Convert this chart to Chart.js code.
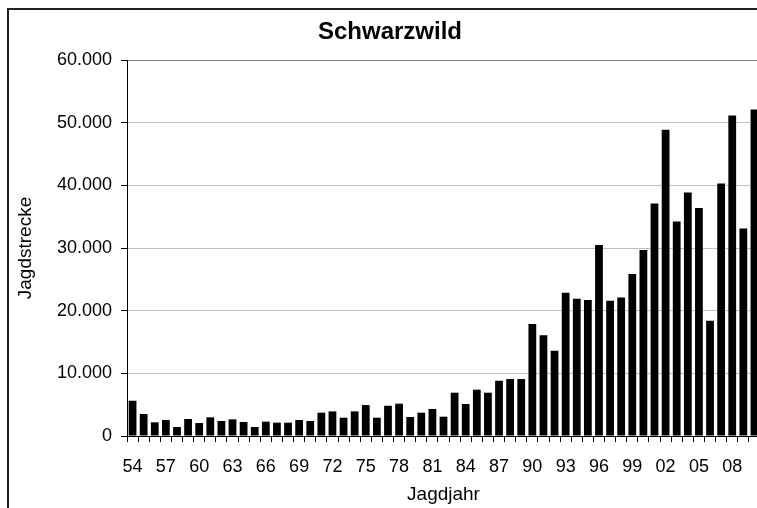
<!DOCTYPE html>
<html>
<head>
<meta charset="utf-8">
<script src="https://cdn.jsdelivr.net/npm/chart.js@4"></script>
<style>
  html, body { margin: 0; padding: 0; background: #fff; overflow: hidden; }
  #frame { position: absolute; left: 7px; top: 8px; width: 800px; height: 600px; border: 2px solid #222; }
  #barChart { position: absolute; left: 0; top: 0; }
</style>
</head>
<body>
<div id="frame"></div>
<canvas id="barChart" width="790" height="508"></canvas>
<script>
// Jagdjahre 1954 - 2010
var years = ['54', '55', '56', '57', '58', '59', '60', '61', '62', '63',
    '64', '65', '66', '67', '68', '69', '70', '71', '72', '73',
    '74', '75', '76', '77', '78', '79', '80', '81', '82', '83',
    '84', '85', '86', '87', '88', '89', '90', '91', '92', '93',
    '94', '95', '96', '97', '98', '99', '00', '01', '02', '03',
    '04', '05', '06', '07', '08', '09', '10'];
var strecke = [5630, 3510, 2180, 2550, 1440, 2710, 2070, 2980, 2390, 2660,
    2230, 1440, 2290, 2130, 2130, 2550, 2390, 3720, 3930, 2920,
    3930, 4940, 2920, 4830, 5160, 3030, 3720, 4310, 3080, 6910,
    5100, 7390, 6910, 8820, 9090, 9090, 17860, 16060, 13610, 22860,
    21900, 21690, 30460, 21580, 22120, 25840, 29670, 37110, 48860, 34240,
    38870, 36370, 18390, 40300, 51150, 33130, 52110];
var yMax = 60000;
var yStep = 10000;

var font = "'Liberation Sans', Arial, sans-serif";

function punkt(v) {
    return String(v).replace(/\B(?=(\d{3})+(?!\d))/g, '.');
}

var ctxBar = document.getElementById('barChart');
var barChart = new Chart(ctxBar, {
    type: 'bar',
    data: {
        labels: years,
        datasets: [{
            data: strecke,
            backgroundColor: '#000',
            borderWidth: 0,
            barPercentage: 0.7,
            categoryPercentage: 1.0
        }]
    },
    options: {
        responsive: false,
        animation: false,
        layout: { padding: { left: 20, right: 30, top: 0, bottom: 0 } },
        plugins: {
            legend: { display: false },
            tooltip: { enabled: false },
            title: {
                display: true,
                text: 'Schwarzwild',
                color: '#000',
                font: { family: font, size: 24, weight: 'bold' },
                padding: { top: 17.6, bottom: 13.6 }
            }
        },
        scales: {
            x: {
                offset: true,
                grid: {
                    offset: true,
                    drawOnChartArea: false,
                    tickLength: 6,
                    tickColor: '#000'
                },
                border: { display: true, color: '#000', width: 1 },
                ticks: {
                    autoSkip: false,
                    maxRotation: 0,
                    color: '#000',
                    padding: 14,
                    font: { family: font, size: 18 },
                    callback: function (v, i) {
                        return i % 3 === 0 ? years[i] : '';
                    }
                },
                title: {
                    display: true,
                    text: 'Jagdjahr',
                    color: '#000',
                    font: { family: font, size: 19 },
                    padding: { top: 0, bottom: 2 }
                },
                afterFit: function (scale) { scale.height = 72; }
            },
            y: {
                min: 0,
                max: yMax,
                grid: {
                    color: function (c) { return c.tick && c.tick.value === yMax ? '#808080' : '#c0c0c0'; },
                    tickLength: 6,
                    tickColor: '#000'
                },
                border: { display: true, color: '#000', width: 1 },
                ticks: {
                    stepSize: yStep,
                    color: '#000',
                    padding: 9,
                    font: { family: font, size: 18 },
                    callback: function (v) { return punkt(v); }
                },
                title: {
                    display: true,
                    text: 'Jagdstrecke',
                    color: '#000',
                    font: { family: font, size: 19, lineHeight: 0.6 },
                    padding: { top: 0, bottom: 0 }
                },
                afterFit: function (scale) { scale.width = 107; }
            }
        }
    }
});
</script>
</body>
</html>
